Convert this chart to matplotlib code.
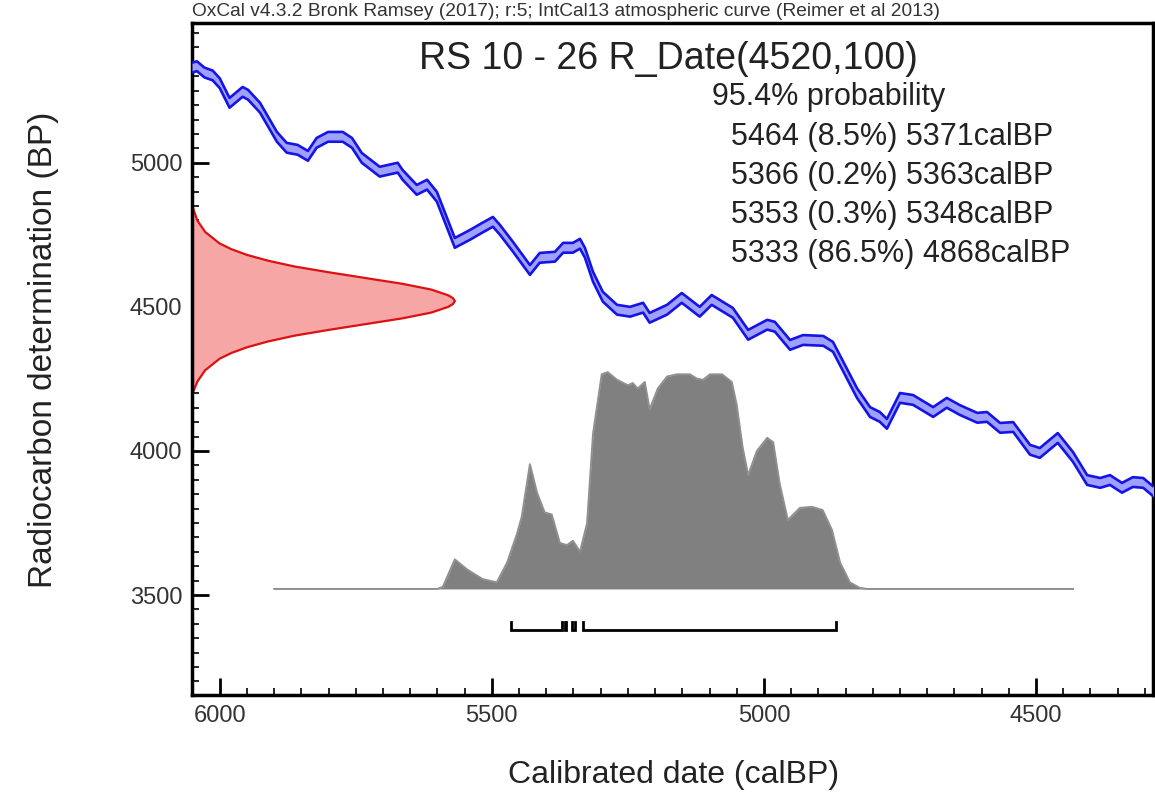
import matplotlib
matplotlib.use("Agg")
import numpy as np
import matplotlib.pyplot as plt
from matplotlib.ticker import MultipleLocator

plt.rcParams['font.family'] = ['Liberation Sans', 'DejaVu Sans']

# IntCal13 curve as drawn (cal BP -> radiocarbon BP)
curve_cal = [6051, 6042, 6028, 6013, 6000, 5982, 5958, 5948, 5926, 5895, 5877, 5857,
             5838, 5822, 5801, 5774, 5757, 5739, 5706, 5673, 5664, 5638, 5619, 5601,
             5568, 5540, 5518, 5498, 5485, 5461, 5430, 5412, 5384, 5369, 5351, 5338,
             5329, 5314, 5296, 5270, 5246, 5222, 5210, 5178, 5151, 5118, 5096, 5057,
             5029, 4994, 4980, 4952, 4928, 4891, 4873, 4829, 4805, 4787, 4774, 4750,
             4726, 4689, 4664, 4640, 4608, 4590, 4566, 4542, 4511, 4493, 4460, 4432,
             4406, 4382, 4364, 4342, 4322, 4303, 4281]
curve_bp = [5330, 5335, 5313, 5303, 5276, 5208, 5246, 5236, 5191, 5090, 5052, 5045,
            5024, 5069, 5090, 5090, 5069, 5017, 4969, 4983, 4958, 4906, 4924, 4882,
            4722, 4750, 4774, 4795, 4767, 4708, 4628, 4670, 4674, 4705, 4705, 4719,
            4688, 4604, 4535, 4490, 4483, 4497, 4462, 4490, 4531, 4483, 4524, 4479,
            4403, 4438, 4431, 4368, 4385, 4382, 4361, 4201, 4135, 4118, 4094, 4184,
            4177, 4135, 4167, 4142, 4115, 4118, 4080, 4083, 4004, 3993, 4045, 3979,
            3899, 3889, 3899, 3872, 3892, 3889, 3854]
curve_sigma = 17

# R_Date(4520,100) as drawn on the y axis (relative height)
rdate_bp = [4862, 4840, 4800, 4760, 4720, 4700, 4680, 4660, 4640, 4620, 4600, 4580,
            4560, 4540, 4530, 4520, 4510, 4500, 4480, 4460, 4440, 4420, 4400, 4380,
            4360, 4340, 4320, 4280, 4240, 4195]
rdate_prob = [0.0, 0.005, 0.02, 0.05, 0.105, 0.15, 0.21, 0.29, 0.39, 0.52, 0.66, 0.80,
              0.91, 0.975, 0.993, 1.0, 0.993, 0.975, 0.91, 0.80, 0.66, 0.52, 0.39, 0.29,
              0.21, 0.15, 0.105, 0.05, 0.02, 0.0]

# calibrated distribution (relative height)
cal_years = [5900, 5600, 5590, 5568, 5546, 5517, 5491, 5472, 5454, 5445, 5430, 5417,
             5403, 5390, 5375, 5362, 5351, 5338, 5325, 5314, 5298, 5287, 5270, 5250,
             5241, 5232, 5219, 5210, 5195, 5178, 5160, 5136, 5123, 5112, 5099, 5077,
             5059, 5050, 5039, 5029, 5013, 4994, 4983, 4971, 4956, 4934, 4912, 4892,
             4875, 4860, 4842, 4824, 4810, 4432]
cal_prob = [0, 0, 0.01, 0.135, 0.09, 0.045, 0.03, 0.12, 0.25, 0.33, 0.57, 0.44,
            0.35, 0.34, 0.21, 0.20, 0.22, 0.17, 0.30, 0.71, 0.98, 0.99, 0.955, 0.93,
            0.94, 0.915, 0.945, 0.82, 0.915, 0.97, 0.98, 0.98, 0.96, 0.955, 0.98, 0.98,
            0.945, 0.84, 0.645, 0.52, 0.63, 0.69, 0.67, 0.48, 0.315, 0.37, 0.375, 0.36,
            0.27, 0.12, 0.03, 0.005, 0, 0]

# 95.4% ranges
range_from = [5464, 5366, 5353, 5333]
range_to = [5371, 5363, 5348, 4868]
range_pct = ["8.5", "0.2", "0.3", "86.5"]

W, H = 1155, 800
x_left, x_right = 6051, 4285

fig = plt.figure(figsize=(W / 100, H / 100), dpi=100)
ax = fig.add_axes([192 / W, 1 - 695 / H, (1153 - 192) / W, (695 - 23) / H])
ax.set_xlim(x_left, x_right)
ax.set_ylim(3153, 5485)

# calibration curve band
cc = np.array(curve_cal)
cb = np.array(curve_bp)
ax.fill_between(cc, cb - curve_sigma, cb + curve_sigma, color='#a0a0ff', lw=0, zorder=3)
ax.plot(cc, cb + curve_sigma, color='#1414e6', lw=1.9, zorder=4)
ax.plot(cc, cb - curve_sigma, color='#1414e6', lw=1.9, zorder=4)

# radiocarbon date on the y axis
rx = x_left - np.array(rdate_prob) * 483
ax.fill_betweenx(rdate_bp, x_left, rx, color='#f7a6a6', lw=0, zorder=2)
ax.plot(rx, rdate_bp, color='#dd1111', lw=1.6, zorder=2)

# calibrated date
base = 3521
gy = base + np.array(cal_prob) * 760
ax.fill_between(cal_years, base, gy, color='#808080', lw=0, zorder=2)
ax.plot(cal_years, gy, color='#909090', lw=1.4, zorder=2)

# range brackets
yb, tk = 3378, 30
for a, b in zip(range_from, range_to):
    ax.plot([a, a, b, b], [yb + tk, yb, yb, yb + tk], color='black', lw=2, zorder=3,
            solid_joinstyle='miter')

# axes styling
for side in ['left', 'right', 'top', 'bottom']:
    ax.spines[side].set_linewidth(2.5)
ax.xaxis.set_major_locator(MultipleLocator(500))
ax.xaxis.set_minor_locator(MultipleLocator(50))
ax.yaxis.set_major_locator(MultipleLocator(500))
ax.yaxis.set_minor_locator(MultipleLocator(50))
ax.tick_params(which='major', direction='in', length=12, width=2, labelsize=17,
               labelcolor='#333333', pad=7)
ax.tick_params(which='minor', direction='in', length=5, width=1.2)

# texts
fig.text(192 / W, 1 - 11 / H,
         "OxCal v4.3.2 Bronk Ramsey (2017); r:5; IntCal13 atmospheric curve (Reimer et al 2013)",
         fontsize=13.8, color='#333333', va='center', ha='left')
fig.text(668 / W, 1 - 59 / H, "RS 10 - 26 R_Date(4520,100)", fontsize=27,
         color='#222222', ha='center', va='center')
fig.text(712 / W, 1 - 97 / H, "95.4% probability", fontsize=22, color='#222222',
         ha='left', va='center')
for i, (a, p, b) in enumerate(zip(range_from, range_pct, range_to)):
    fig.text(731 / W, 1 - (137 + 39 * i) / H, f"{a} ({p}%) {b}calBP", fontsize=22,
             color='#222222', ha='left', va='center')

fig.text(674 / W, 1 - 775 / H, "Calibrated date (calBP)", fontsize=23, color='#222222',
         ha='center', va='center')
fig.text(44 / W, 1 - 350 / H, "Radiocarbon determination (BP)", fontsize=24,
         color='#222222', ha='center', va='center', rotation=90)

fig.savefig("out.png", dpi=100)
